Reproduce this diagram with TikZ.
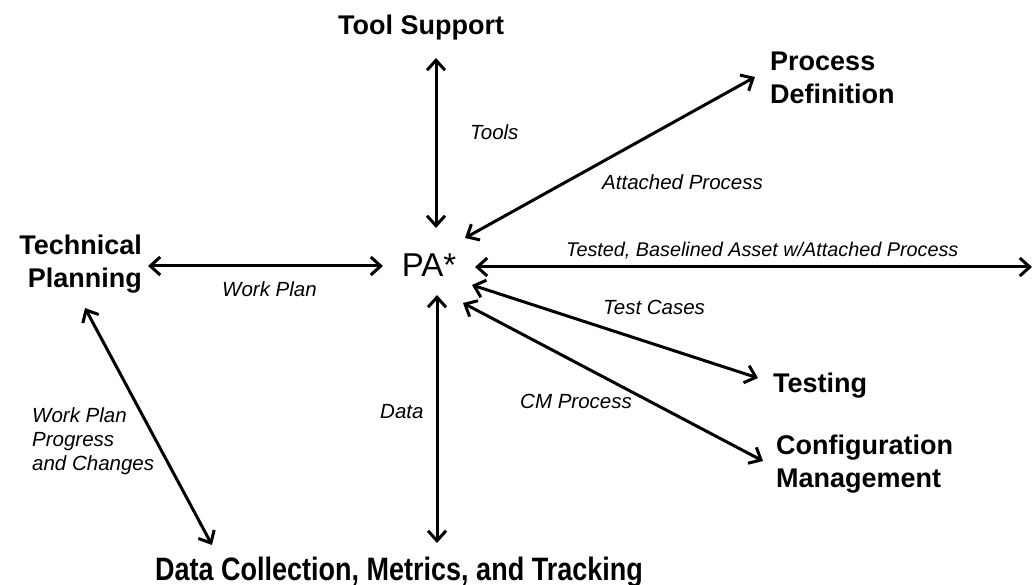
\documentclass[tikz,border=0pt]{standalone}
\usepackage{fontspec}
\setmainfont{Liberation Sans}
\usetikzlibrary{arrows.meta}
\begin{document}
\begin{tikzpicture}[x=1pt,y=-1pt,
  big/.style={font=\fontsize{27}{33}\selectfont\bfseries, inner sep=0pt},
  lbl/.style={font=\fontsize{20.5}{24}\selectfont\itshape, inner sep=0pt},
  arr/.style={line width=3pt, {Straight Barb[length=10pt,width=18pt]}-{Straight Barb[length=10pt,width=18pt]}}]
\useasboundingbox (0,0) rectangle (1034,585);
% main nodes
\node[font=\fontsize{33}{38}\selectfont, inner sep=0pt] (PA) at (429,265) {PA*};
\node[big, anchor=north] (TS) at (421,15) {Tool Support};
\node[big, anchor=north west, align=left] (PD) at (770,52) {Process\\Definition};
\node[big, anchor=north east, align=right] (TP) at (142,235) {Technical\\Planning};
\node[big, anchor=base west] (TE) at (773,392) {Testing};
\node[big, anchor=north west, align=left] (CM) at (776,435) {Configuration\\Management};
\node[big, anchor=base] (DC) at (399,580) {\scalebox{1}[1.2]{Data Collection, Metrics, and Tracking}};
\coordinate (edge) at (1032,267);
% connectors
\draw[arr] ([shift={(7,-37)}]PA.center) -- ([shift={(15,43)}]TS.north);
\draw[arr] ([shift={(36,-27)}]PA.center) -- ([shift={(-15,25)}]PD.north west);
\draw[arr] ([shift={(6,31)}]TP.north east) -- ([shift={(-46,1)}]PA.center);
\draw[arr] ([shift={(46,2)}]PA.center) -- (edge);
\draw[arr] ([shift={(43,20)}]PA.center) -- ([shift={(-15,-14)}]TE.base west);
\draw[arr] ([shift={(34,38)}]PA.center) -- ([shift={(-13,26)}]CM.north west);
\draw[arr] ([shift={(8,30)}]PA.center) -- ([shift={(38,-37)}]DC.base);
\draw[arr] ([shift={(-57,73)}]TP.north east) -- ([shift={(-187,-35)}]DC.base);
% connector labels
\node[lbl, anchor=base west] (l1) at (470,140) {Tools};
\node[lbl, anchor=base west] (l2) at (602,190) {Attached Process};
\node[lbl, anchor=base west] (l3) at (222,297) {Work Plan};
\node[lbl, anchor=base west, font=\fontsize{19.8}{24}\selectfont\itshape] (l4) at (566,257) {Tested, Baselined Asset w/Attached Process};
\node[lbl, anchor=base west] (l5) at (603,315) {Test Cases};
\node[lbl, anchor=base west] (l6) at (520,408) {CM Process};
\node[lbl, anchor=base west] (l7) at (380,418) {Data};
\node[lbl, anchor=north west, align=left] (l8) at (32,407) {Work Plan\\Progress\\and Changes};
\end{tikzpicture}
\end{document}
